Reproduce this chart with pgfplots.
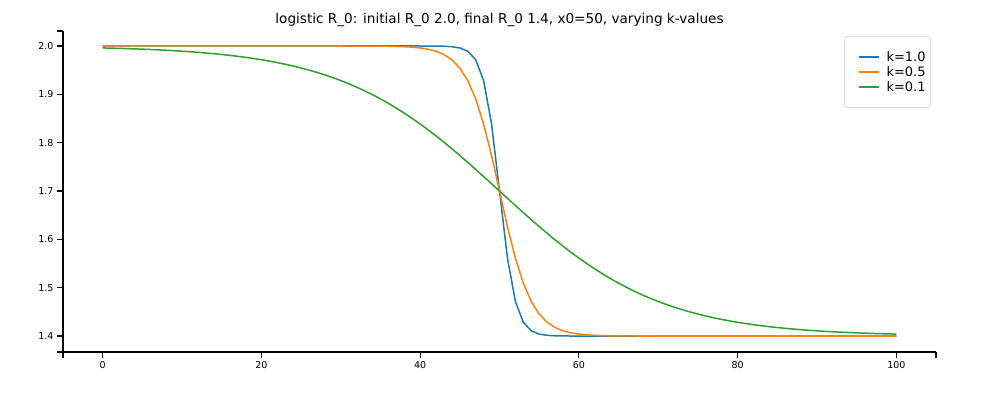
\documentclass[border=0pt]{standalone}
\usepackage{pgfplots}
\pgfplotsset{compat=1.18}
\usepackage{fontspec}
\setmainfont{DejaVu Sans}
\definecolor{cA}{HTML}{1F77B4}
\definecolor{cB}{HTML}{FF7F0E}
\definecolor{cC}{HTML}{2CA02C}
\definecolor{legframe}{HTML}{DDDDDD}
\begin{document}
\begin{tikzpicture}
\path[use as bounding box] (-63pt,-44pt) rectangle (937pt,352pt);
\begin{axis}[
  at={(0pt,0pt)}, anchor=south west,
  scale only axis, width=873pt, height=321pt,
  xmin=-5, xmax=105, ymin=1.367, ymax=2.031,
  axis x line*=bottom, axis y line*=left,
  axis line style={-, line width=1.1pt, black},
  tick align=outside, major tick length=6pt,
  every tick/.style={line width=1.1pt, black},
  xtick={0,20,40,60,80,100}, ytick={1.4,1.5,1.6,1.7,1.8,1.9,2.0},
  extra x ticks={-5,105}, extra x tick labels={},
  extra y ticks={1.367,2.031}, extra y tick labels={},
  y tick label style={/pgf/number format/fixed, /pgf/number format/fixed zerofill, /pgf/number format/precision=1},
  /pgf/number format/assume math mode=true,
  tick label style={font=\fontsize{9.5}{10}\selectfont},
  title={logistic R\_0: initial R\_0 2.0, final R\_0 1.4, x0=50, varying k-values},
  title style={font=\fontsize{13.6}{16}\selectfont, at={(0.5,1)}, anchor=base, yshift=1pt},
  legend cell align=left,
  legend image code/.code={\path (-10pt,0pt); \draw[#1, /tikz/line width=1.6pt] (0pt,0pt) -- (20pt,0pt); \path (25.5pt,0pt);},
  legend style={at={(1,1)}, anchor=north east, xshift=-5pt, yshift=-5pt,
    draw=legframe, rounded corners=3pt, line width=0.8pt,
    font=\fontsize{13}{15}\selectfont,
    inner xsep=3.5pt, inner ysep=13.5pt, row sep=0.5pt,
    nodes={inner sep=1.5pt}},
]
\addplot[color=cA, line width=1.5pt] coordinates {
(0,2.0)(10,2.0)(20,2.0)(30,2.0)(38,2.0)(39,2.0)(40,1.99997)(41,1.99993)(42,1.99980)(43,1.99945)(44,1.99852)(45,1.99598)(46,1.98921)(47,1.97155)(48,1.92848)(49,1.83864)(50,1.7)
(51,1.56137)(52,1.47152)(53,1.42845)(54,1.41079)(55,1.40402)(56,1.40148)(57,1.40055)(58,1.40020)(59,1.40007)(60,1.40003)(61,1.40001)(62,1.4)(70,1.4)(80,1.4)(90,1.4)(100,1.4)
};
\addlegendentry{k=1.0}
\addplot[color=cB, line width=1.5pt] coordinates {
(0,2.0)(10,2.0)(20,2.0)(26,2.0)(27,1.99999)(28,1.99999)(29,1.99998)(30,1.99997)(31,1.99996)(32,1.99993)(33,1.99988)(34,1.99980)(35,1.99967)(36,1.99945)(37,1.99910)(38,1.99852)(39,1.99756)(40,1.99598)
(41,1.99341)(42,1.98921)(43,1.98241)(44,1.97155)(45,1.95449)(46,1.92848)(47,1.89054)(48,1.83864)(49,1.77348)(50,1.7)
(51,1.62652)(52,1.56137)(53,1.50946)(54,1.47152)(55,1.44551)(56,1.42845)(57,1.41759)(58,1.41079)(59,1.40659)(60,1.40402)
(61,1.40244)(62,1.40148)(63,1.40090)(64,1.40055)(65,1.40033)(66,1.40020)(67,1.40012)(68,1.40007)(69,1.40004)(70,1.40003)(71,1.40002)(72,1.40001)(73,1.40001)(74,1.4)(80,1.4)(90,1.4)(100,1.4)
};
\addlegendentry{k=0.5}
\addplot[color=cC, line width=1.5pt] coordinates {
(0,1.99598)(1,1.99556)(2,1.99510)(3,1.99459)(4,1.99403)(5,1.99341)(6,1.99272)(7,1.99197)(8,1.99114)(9,1.99022)
(10,1.98921)(11,1.98810)(12,1.98687)(13,1.98552)(14,1.98404)(15,1.98241)(16,1.98062)(17,1.97866)(18,1.97650)(19,1.97414)
(20,1.97155)(21,1.96871)(22,1.96561)(23,1.96222)(24,1.95852)(25,1.95449)(26,1.95010)(27,1.94533)(28,1.94015)(29,1.93454)
(30,1.92848)(31,1.92194)(32,1.91489)(33,1.90732)(34,1.89921)(35,1.89054)(36,1.88131)(37,1.87150)(38,1.86112)(39,1.85016)
(40,1.83864)(41,1.82657)(42,1.81398)(43,1.80091)(44,1.78739)(45,1.77348)(46,1.75921)(47,1.74467)(48,1.72990)(49,1.71499)
(50,1.7)
(51,1.68501)(52,1.67010)(53,1.65533)(54,1.64079)(55,1.62652)(56,1.61261)(57,1.59909)(58,1.58602)(59,1.57343)(60,1.56137)
(61,1.54984)(62,1.53889)(63,1.52850)(64,1.51869)(65,1.50946)(66,1.50079)(67,1.49268)(68,1.48511)(69,1.47807)(70,1.47152)
(71,1.46546)(72,1.45985)(73,1.45467)(74,1.44990)(75,1.44551)(76,1.44148)(77,1.43778)(78,1.43439)(79,1.43129)(80,1.42845)
(81,1.42586)(82,1.42350)(83,1.42134)(84,1.41938)(85,1.41759)(86,1.41596)(87,1.41448)(88,1.41313)(89,1.41190)(90,1.41079)
(91,1.40978)(92,1.40886)(93,1.40803)(94,1.40728)(95,1.40659)(96,1.40597)(97,1.40541)(98,1.40490)(99,1.40444)(100,1.40402)
};
\addlegendentry{k=0.1}
\end{axis}
\end{tikzpicture}
\end{document}
